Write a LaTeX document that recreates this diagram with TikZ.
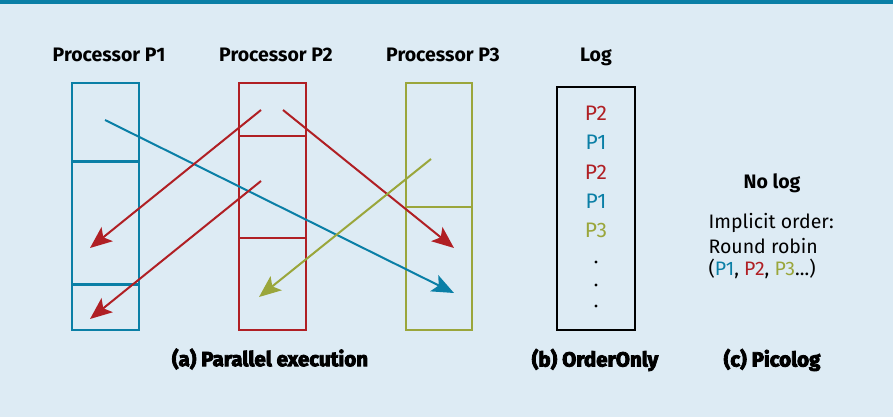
\documentclass[tikz,border=0pt]{standalone}
\usepackage{fontspec}
\setmainfont{Fira Sans}
\newfontfamily\heavyfont[BoldFeatures={FakeBold=4}]{Fira Sans}
\usetikzlibrary{arrows.meta}
\definecolor{bg}{HTML}{DDEBF4}
\definecolor{pblue}{HTML}{0A7FA6}
\definecolor{pred}{HTML}{B01F24}
\definecolor{pgreen}{HTML}{9AA63B}
\tikzset{
  proc/.style={line width=2.3pt},
  arr/.style={line width=2pt,-{Stealth[length=22pt,width=18pt,inset=5pt]}},
  head/.style={font=\fontsize{19.5}{22}\selectfont\bfseries},
  captxt/.style={font=\fontsize{20.5}{23}\selectfont\heavyfont\bfseries},
  entry/.style={font=\fontsize{21}{23}\selectfont},
  body/.style={font=\fontsize{19.5}{23}\selectfont,anchor=west}
}
\begin{document}
\begin{tikzpicture}[x=1pt,y=-1pt]
\fill[bg] (0,0) rectangle (893,417);
\useasboundingbox (0,0) rectangle (893,417);
\fill[pblue] (0,0) rectangle (893,4);
% headers
\node[head] (h1) at (109,55) {Processor P1};
\node[head] (h2) at (276,55) {Processor P2};
\node[head] (h3) at (443,55) {Processor P3};
\node[head] (h4) at (596,57) {Log};
% processor boxes
\draw[proc,pblue] (72,83) rectangle (139,330);
\draw[proc,pblue] (72,161.5) -- (139,161.5);
\draw[proc,pblue] (72,284.5) -- (139,284.5);
\draw[proc,pred] (239,83) rectangle (306,330);
\draw[proc,pred] (239,136) -- (306,136);
\draw[proc,pred] (239,238) -- (306,238);
\draw[proc,pgreen] (406,83) rectangle (472,330);
\draw[proc,pgreen] (406,207) -- (472,207);
% arrow endpoints
\coordinate (b0) at (105,120); \coordinate (b1) at (454,293);
\coordinate (r10) at (261,110); \coordinate (r11) at (90,248);
\coordinate (r20) at (283,110); \coordinate (r21) at (454,248);
\coordinate (r30) at (261,181); \coordinate (r31) at (90,319);
\coordinate (g0) at (431,159); \coordinate (g1) at (259,297);
\draw[arr,pblue] (b0) -- (b1);
\draw[arr,pred] (r10) -- (r11);
\draw[arr,pred] (r20) -- (r21);
\draw[arr,pred] (r30) -- (r31);
\draw[arr,pgreen] (g0) -- (g1);
% log
\draw[line width=2pt,black] (557,87) rectangle (635,330);
\node[entry,text=pred] (e1) at (596,113) {P2};
\node[entry,text=pblue] (e2) at (596,142) {P1};
\node[entry,text=pred] (e3) at (596,172) {P2};
\node[entry,text=pblue] (e4) at (596,201) {P1};
\node[entry,text=pgreen] (e5) at (596,230) {P3};
\fill (596,262) circle (1.7);
\fill (596,285) circle (1.7);
\fill (596,306) circle (1.7);
% picolog
\node[head] (nl) at (772,183) {No log};
\node[body] (impl1) at (705,223) {Implicit order:};
\node[body] (impl2) at (705,246) {Round robin};
\node[body] (impl3) at (705,269) {(\textcolor{pblue}{P1}, \textcolor{pred}{P2}, \textcolor{pgreen}{P3}...)};
% captions
\node[captxt] (ca) at (270,359) {(a) Parallel execution};
\node[captxt] (cb) at (595,360) {(b) OrderOnly};
\node[captxt] (cc) at (772,360) {(c) Picolog};
\end{tikzpicture}
\end{document}
